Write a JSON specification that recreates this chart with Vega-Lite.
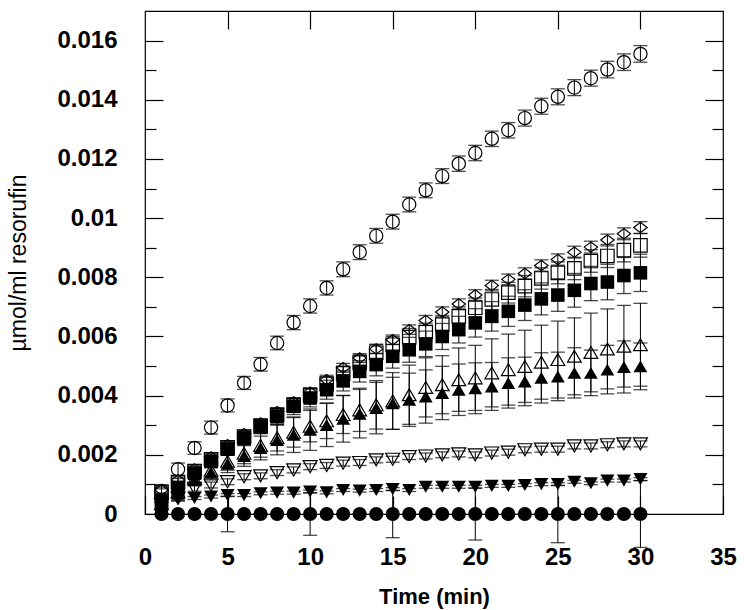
{
"$schema": "https://vega.github.io/schema/vega-lite/v6.json",
"width": 578, "height": 503,
"autosize": "none",
"padding": {"left": 145, "top": 11, "right": 25, "bottom": 96},
"background": "white",
"config": {"view": {"stroke": "black", "strokeWidth": 1.2}, "font": "Liberation Sans"},
"datasets": {"d": [
{"s":"oc","t":1,"v":0.00078,"e":0.0002},{"s":"oc","t":2,"v":0.00151,"e":0.00021},{"s":"oc","t":3,"v":0.00223,"e":0.00021},{"s":"oc","t":4,"v":0.00292,"e":0.00022},{"s":"oc","t":5,"v":0.00367,"e":0.00022},{"s":"oc","t":6,"v":0.00443,"e":0.00022},{"s":"oc","t":7,"v":0.00506,"e":0.00023},{"s":"oc","t":8,"v":0.00578,"e":0.00023},{"s":"oc","t":9,"v":0.00647,"e":0.00024},{"s":"oc","t":10,"v":0.00703,"e":0.00024},
{"s":"oc","t":11,"v":0.00764,"e":0.00024},{"s":"oc","t":12,"v":0.00827,"e":0.00025},{"s":"oc","t":13,"v":0.00885,"e":0.00025},{"s":"oc","t":14,"v":0.0094,"e":0.00025},{"s":"oc","t":15,"v":0.00988,"e":0.00025},{"s":"oc","t":16,"v":0.01046,"e":0.00025},{"s":"oc","t":17,"v":0.01094,"e":0.00025},{"s":"oc","t":18,"v":0.01142,"e":0.00025},{"s":"oc","t":19,"v":0.01184,"e":0.00026},{"s":"oc","t":20,"v":0.0122,"e":0.00026},
{"s":"oc","t":21,"v":0.01268,"e":0.00026},{"s":"oc","t":22,"v":0.01297,"e":0.00026},{"s":"oc","t":23,"v":0.01338,"e":0.00027},{"s":"oc","t":24,"v":0.01378,"e":0.00027},{"s":"oc","t":25,"v":0.0141,"e":0.00027},{"s":"oc","t":26,"v":0.01441,"e":0.00027},{"s":"oc","t":27,"v":0.01473,"e":0.00027},{"s":"oc","t":28,"v":0.01502,"e":0.00028},{"s":"oc","t":29,"v":0.01527,"e":0.00028},{"s":"oc","t":30,"v":0.01555,"e":0.00028},

{"s":"od","t":1,"v":0.00081,"e":0.0001},{"s":"od","t":2,"v":0.00115,"e":0.0001},{"s":"od","t":3,"v":0.00152,"e":0.00011},{"s":"od","t":4,"v":0.00193,"e":0.00011},{"s":"od","t":5,"v":0.00234,"e":0.00012},{"s":"od","t":6,"v":0.00271,"e":0.00012},{"s":"od","t":7,"v":0.00308,"e":0.00013},{"s":"od","t":8,"v":0.00346,"e":0.00013},{"s":"od","t":9,"v":0.00379,"e":0.00014},{"s":"od","t":10,"v":0.00412,"e":0.00014},
{"s":"od","t":11,"v":0.00454,"e":0.00015},{"s":"od","t":12,"v":0.00494,"e":0.00015},{"s":"od","t":13,"v":0.00527,"e":0.00015},{"s":"od","t":14,"v":0.00558,"e":0.00016},{"s":"od","t":15,"v":0.00589,"e":0.00016},{"s":"od","t":16,"v":0.00623,"e":0.00016},{"s":"od","t":17,"v":0.00654,"e":0.00017},{"s":"od","t":18,"v":0.00683,"e":0.00017},{"s":"od","t":19,"v":0.0071,"e":0.00017},{"s":"od","t":20,"v":0.0074,"e":0.00018},
{"s":"od","t":21,"v":0.00772,"e":0.00018},{"s":"od","t":22,"v":0.00793,"e":0.00018},{"s":"od","t":23,"v":0.00813,"e":0.00019},{"s":"od","t":24,"v":0.0084,"e":0.00019},{"s":"od","t":25,"v":0.0086,"e":0.00019},{"s":"od","t":26,"v":0.00885,"e":0.0002},{"s":"od","t":27,"v":0.00902,"e":0.0002},{"s":"od","t":28,"v":0.00926,"e":0.0002},{"s":"od","t":29,"v":0.00947,"e":0.0002},{"s":"od","t":30,"v":0.00968,"e":0.0002},

{"s":"os","t":1,"v":0.00075,"e":0.0001},{"s":"os","t":2,"v":0.00108,"e":0.00012},{"s":"os","t":3,"v":0.00145,"e":0.00013},{"s":"os","t":4,"v":0.00185,"e":0.00015},{"s":"os","t":5,"v":0.00225,"e":0.00016},{"s":"os","t":6,"v":0.00262,"e":0.00018},{"s":"os","t":7,"v":0.00298,"e":0.00019},{"s":"os","t":8,"v":0.00335,"e":0.0002},{"s":"os","t":9,"v":0.00368,"e":0.00022},{"s":"os","t":10,"v":0.00402,"e":0.00023},
{"s":"os","t":11,"v":0.0044,"e":0.00024},{"s":"os","t":12,"v":0.00475,"e":0.00025},{"s":"os","t":13,"v":0.00512,"e":0.00026},{"s":"os","t":14,"v":0.00545,"e":0.00027},{"s":"os","t":15,"v":0.00572,"e":0.00028},{"s":"os","t":16,"v":0.00598,"e":0.00029},{"s":"os","t":17,"v":0.00615,"e":0.0003},{"s":"os","t":18,"v":0.0064,"e":0.00031},{"s":"os","t":19,"v":0.00668,"e":0.00032},{"s":"os","t":20,"v":0.00697,"e":0.00033},
{"s":"os","t":21,"v":0.00725,"e":0.00034},{"s":"os","t":22,"v":0.00748,"e":0.00035},{"s":"os","t":23,"v":0.0077,"e":0.00036},{"s":"os","t":24,"v":0.00796,"e":0.00036},{"s":"os","t":25,"v":0.00815,"e":0.00037},{"s":"os","t":26,"v":0.0083,"e":0.00038},{"s":"os","t":27,"v":0.00855,"e":0.00038},{"s":"os","t":28,"v":0.00872,"e":0.00039},{"s":"os","t":29,"v":0.00892,"e":0.0004},{"s":"os","t":30,"v":0.00908,"e":0.0004},

{"s":"fs","t":1,"v":0.00047,"e":0.0001},{"s":"fs","t":2,"v":0.0009,"e":0.00013},{"s":"fs","t":3,"v":0.00138,"e":0.00015},{"s":"fs","t":4,"v":0.00177,"e":0.00018},{"s":"fs","t":5,"v":0.00219,"e":0.0002},{"s":"fs","t":6,"v":0.00256,"e":0.00022},{"s":"fs","t":7,"v":0.00296,"e":0.00024},{"s":"fs","t":8,"v":0.0033,"e":0.00026},{"s":"fs","t":9,"v":0.00364,"e":0.00028},{"s":"fs","t":10,"v":0.00392,"e":0.0003},
{"s":"fs","t":11,"v":0.0042,"e":0.00032},{"s":"fs","t":12,"v":0.0045,"e":0.00034},{"s":"fs","t":13,"v":0.00482,"e":0.00036},{"s":"fs","t":14,"v":0.00505,"e":0.00038},{"s":"fs","t":15,"v":0.00533,"e":0.0004},{"s":"fs","t":16,"v":0.00555,"e":0.00042},{"s":"fs","t":17,"v":0.00575,"e":0.00043},{"s":"fs","t":18,"v":0.006,"e":0.00044},{"s":"fs","t":19,"v":0.00623,"e":0.00045},{"s":"fs","t":20,"v":0.00646,"e":0.00048},
{"s":"fs","t":21,"v":0.00668,"e":0.0005},{"s":"fs","t":22,"v":0.00685,"e":0.00051},{"s":"fs","t":23,"v":0.00706,"e":0.00052},{"s":"fs","t":24,"v":0.00727,"e":0.00054},{"s":"fs","t":25,"v":0.0074,"e":0.00055},{"s":"fs","t":26,"v":0.00756,"e":0.00057},{"s":"fs","t":27,"v":0.00779,"e":0.00058},{"s":"fs","t":28,"v":0.00784,"e":0.0006},{"s":"fs","t":29,"v":0.00806,"e":0.00061},{"s":"fs","t":30,"v":0.00815,"e":0.00063},

{"s":"otu","t":1,"v":0.00035,"e":0.0001},{"s":"otu","t":2,"v":0.00075,"e":0.00015},{"s":"otu","t":3,"v":0.0012,"e":0.0002},{"s":"otu","t":4,"v":0.00148,"e":0.00025},{"s":"otu","t":5,"v":0.00178,"e":0.0003},{"s":"otu","t":6,"v":0.00205,"e":0.00035},{"s":"otu","t":7,"v":0.00232,"e":0.0004},{"s":"otu","t":8,"v":0.00258,"e":0.00045},{"s":"otu","t":9,"v":0.00276,"e":0.0005},{"s":"otu","t":10,"v":0.00297,"e":0.00053},
{"s":"otu","t":11,"v":0.00315,"e":0.0006},{"s":"otu","t":12,"v":0.00336,"e":0.00064},{"s":"otu","t":13,"v":0.00352,"e":0.00073},{"s":"otu","t":14,"v":0.00369,"e":0.00082},{"s":"otu","t":15,"v":0.00382,"e":0.00096},{"s":"otu","t":16,"v":0.00403,"e":0.001},{"s":"otu","t":17,"v":0.00428,"e":0.001},{"s":"otu","t":18,"v":0.00437,"e":0.00098},{"s":"otu","t":19,"v":0.00454,"e":0.00107},{"s":"otu","t":20,"v":0.0046,"e":0.0011},
{"s":"otu","t":21,"v":0.00477,"e":0.00115},{"s":"otu","t":22,"v":0.00488,"e":0.0012},{"s":"otu","t":23,"v":0.00499,"e":0.00122},{"s":"otu","t":24,"v":0.00513,"e":0.00125},{"s":"otu","t":25,"v":0.00522,"e":0.0013},{"s":"otu","t":26,"v":0.00533,"e":0.0013},{"s":"otu","t":27,"v":0.00546,"e":0.00133},{"s":"otu","t":28,"v":0.00558,"e":0.00135},{"s":"otu","t":29,"v":0.00567,"e":0.00138},{"s":"otu","t":30,"v":0.00572,"e":0.0014},

{"s":"ftu","t":1,"v":0.0003,"e":0.0001},{"s":"ftu","t":2,"v":0.00068,"e":0.00015},{"s":"ftu","t":3,"v":0.00115,"e":0.0002},{"s":"ftu","t":4,"v":0.0014,"e":0.00025},{"s":"ftu","t":5,"v":0.0017,"e":0.0003},{"s":"ftu","t":6,"v":0.00196,"e":0.00035},{"s":"ftu","t":7,"v":0.00223,"e":0.0004},{"s":"ftu","t":8,"v":0.0025,"e":0.0005},{"s":"ftu","t":9,"v":0.00268,"e":0.0006},{"s":"ftu","t":10,"v":0.00285,"e":0.0007},
{"s":"ftu","t":11,"v":0.00301,"e":0.00073},{"s":"ftu","t":12,"v":0.00322,"e":0.00079},{"s":"ftu","t":13,"v":0.00339,"e":0.00082},{"s":"ftu","t":14,"v":0.00358,"e":0.00087},{"s":"ftu","t":15,"v":0.00374,"e":0.00088},{"s":"ftu","t":16,"v":0.00386,"e":0.0009},{"s":"ftu","t":17,"v":0.00397,"e":0.0009},{"s":"ftu","t":18,"v":0.00409,"e":0.0009},{"s":"ftu","t":19,"v":0.0042,"e":0.00087},{"s":"ftu","t":20,"v":0.00425,"e":0.00086},
{"s":"ftu","t":21,"v":0.00431,"e":0.00081},{"s":"ftu","t":22,"v":0.00443,"e":0.00085},{"s":"ftu","t":23,"v":0.00448,"e":0.00082},{"s":"ftu","t":24,"v":0.0046,"e":0.00085},{"s":"ftu","t":25,"v":0.00465,"e":0.00082},{"s":"ftu","t":26,"v":0.00477,"e":0.00085},{"s":"ftu","t":27,"v":0.00477,"e":0.00077},{"s":"ftu","t":28,"v":0.00488,"e":0.00082},{"s":"ftu","t":29,"v":0.00497,"e":0.00088},{"s":"ftu","t":30,"v":0.00499,"e":0.00079},

{"s":"otd","t":1,"v":0.0003,"e":0.0001},{"s":"otd","t":2,"v":0.00054,"e":0.0001},{"s":"otd","t":3,"v":0.00087,"e":0.0001},{"s":"otd","t":4,"v":0.00098,"e":0.0001},{"s":"otd","t":5,"v":0.00109,"e":0.0001},{"s":"otd","t":6,"v":0.00126,"e":0.0001},{"s":"otd","t":7,"v":0.00129,"e":0.0001},{"s":"otd","t":8,"v":0.0014,"e":0.0001},{"s":"otd","t":9,"v":0.00149,"e":0.0001},{"s":"otd","t":10,"v":0.0016,"e":0.0001},
{"s":"otd","t":11,"v":0.00164,"e":0.0001},{"s":"otd","t":12,"v":0.00172,"e":0.0001},{"s":"otd","t":13,"v":0.00174,"e":0.0001},{"s":"otd","t":14,"v":0.00183,"e":0.0001},{"s":"otd","t":15,"v":0.00185,"e":0.0001},{"s":"otd","t":16,"v":0.00194,"e":0.0001},{"s":"otd","t":17,"v":0.00196,"e":0.0001},{"s":"otd","t":18,"v":0.002,"e":0.0001},{"s":"otd","t":19,"v":0.00203,"e":0.0001},{"s":"otd","t":20,"v":0.002,"e":0.0001},
{"s":"otd","t":21,"v":0.00206,"e":0.0001},{"s":"otd","t":22,"v":0.00209,"e":0.0001},{"s":"otd","t":23,"v":0.00217,"e":0.0001},{"s":"otd","t":24,"v":0.00219,"e":0.0001},{"s":"otd","t":25,"v":0.00219,"e":0.0001},{"s":"otd","t":26,"v":0.0023,"e":0.0001},{"s":"otd","t":27,"v":0.0023,"e":0.0001},{"s":"otd","t":28,"v":0.00234,"e":0.0001},{"s":"otd","t":29,"v":0.00237,"e":0.0001},{"s":"otd","t":30,"v":0.00237,"e":0.0001},

{"s":"ftd","t":1,"v":0.00035,"e":0.00005},{"s":"ftd","t":2,"v":0.0005,"e":0.00005},{"s":"ftd","t":3,"v":0.00054,"e":0.00005},{"s":"ftd","t":4,"v":0.00059,"e":0.00005},{"s":"ftd","t":5,"v":0.00064,"e":0.00005},{"s":"ftd","t":6,"v":0.00064,"e":0.00005},{"s":"ftd","t":7,"v":0.0007,"e":0.00005},{"s":"ftd","t":8,"v":0.00072,"e":0.00005},{"s":"ftd","t":9,"v":0.00072,"e":0.00005},{"s":"ftd","t":10,"v":0.00076,"e":0.00005},
{"s":"ftd","t":11,"v":0.00073,"e":0.00005},{"s":"ftd","t":12,"v":0.00081,"e":0.00005},{"s":"ftd","t":13,"v":0.00079,"e":0.00005},{"s":"ftd","t":14,"v":0.00081,"e":0.00005},{"s":"ftd","t":15,"v":0.00084,"e":0.00005},{"s":"ftd","t":16,"v":0.00081,"e":0.00005},{"s":"ftd","t":17,"v":0.00092,"e":0.00005},{"s":"ftd","t":18,"v":0.00092,"e":0.00005},{"s":"ftd","t":19,"v":0.00092,"e":0.00005},{"s":"ftd","t":20,"v":0.00092,"e":0.00005},
{"s":"ftd","t":21,"v":0.00095,"e":0.00005},{"s":"ftd","t":22,"v":0.00095,"e":0.00005},{"s":"ftd","t":23,"v":0.00098,"e":0.00005},{"s":"ftd","t":24,"v":0.00101,"e":0.00005},{"s":"ftd","t":25,"v":0.00101,"e":0.00005},{"s":"ftd","t":26,"v":0.00109,"e":0.00005},{"s":"ftd","t":27,"v":0.00104,"e":0.00005},{"s":"ftd","t":28,"v":0.00113,"e":0.00005},{"s":"ftd","t":29,"v":0.00113,"e":0.00005},{"s":"ftd","t":30,"v":0.00118,"e":0.00005},

{"s":"fc","t":1,"v":0,"e":0},{"s":"fc","t":2,"v":0,"e":0},{"s":"fc","t":3,"v":0,"e":0},{"s":"fc","t":4,"v":0,"e":0},{"s":"fc","t":5,"v":0,"e":0.0006},{"s":"fc","t":6,"v":0,"e":0},{"s":"fc","t":7,"v":0,"e":0},{"s":"fc","t":8,"v":0,"e":0},{"s":"fc","t":9,"v":0,"e":0},{"s":"fc","t":10,"v":0,"e":0.00072},
{"s":"fc","t":11,"v":0,"e":0},{"s":"fc","t":12,"v":0,"e":0},{"s":"fc","t":13,"v":0,"e":0},{"s":"fc","t":14,"v":0,"e":0},{"s":"fc","t":15,"v":0,"e":0.0008},{"s":"fc","t":16,"v":0,"e":0},{"s":"fc","t":17,"v":0,"e":0},{"s":"fc","t":18,"v":0,"e":0},{"s":"fc","t":19,"v":0,"e":0},{"s":"fc","t":20,"v":0,"e":0.00088},
{"s":"fc","t":21,"v":0,"e":0},{"s":"fc","t":22,"v":0,"e":0},{"s":"fc","t":23,"v":0,"e":0},{"s":"fc","t":24,"v":0,"e":0},{"s":"fc","t":25,"v":0,"e":0.00097},{"s":"fc","t":26,"v":0,"e":0},{"s":"fc","t":27,"v":0,"e":0},{"s":"fc","t":28,"v":0,"e":0},{"s":"fc","t":29,"v":0,"e":0},{"s":"fc","t":30,"v":0,"e":0.00113}
]},
"data": {"name": "d"},
"resolve": {"axis": {"x": "independent", "y": "independent"}},
"layer": [
{
"mark": {"type": "errorbar", "color": "black", "thickness": 1, "ticks": {"size": 14, "color": "black", "thickness": 1.3}},
"encoding": {
"x": {"field": "t", "type": "quantitative", "scale": {"domain": [0, 35], "nice": false, "zero": true},
"axis": {"orient": "bottom", "values": [0,5,10,15,20,25,30,35], "tickSize": -18, "tickColor": "black", "tickWidth": 1.2, "domain": false, "grid": false,
"labelFont": "Liberation Sans", "labelFontSize": 24, "labelFontWeight": "bold", "labelColor": "black", "labelPadding": 49, "labelFlush": false, "labelOverlap": false, "labelBaseline": "top",
"title": "Time (min)", "titleFont": "Liberation Sans", "titleFontSize": 22, "titleFontWeight": "bold", "titleColor": "black", "titlePadding": 17}},
"y": {"field": "v", "type": "quantitative", "scale": {"domain": [0, 0.017], "nice": false, "zero": true},
"axis": {"orient": "left", "values": [0,0.001,0.002,0.003,0.004,0.005,0.006,0.007,0.008,0.009,0.01,0.011,0.012,0.013,0.014,0.015,0.016],
"tickSize": {"condition": {"test": "round(datum.value*1000) % 2 == 0", "value": -18}, "value": -11},
"tickColor": "black", "tickWidth": 1.2, "domain": false, "grid": false,
"labelExpr": "round(datum.value*1000) % 2 == 0 ? format(datum.value, '.3~f') : ''",
"labelFont": "Liberation Sans", "labelFontSize": 24, "labelFontWeight": "bold", "labelColor": "black", "labelPadding": 46, "labelFlush": false, "labelOverlap": false,
"title": "µmol/ml resorufin", "titleFont": "Liberation Sans", "titleFontSize": 23, "titleFontWeight": "normal", "titleColor": "black", "titlePadding": 26}},
"yError": {"field": "e"}
}
},
{
"transform": [{"filter": {"field": "s", "oneOf": ["oc", "od", "os", "otu", "otd"]}}],
"mark": {"type": "point", "filled": false, "stroke": "black", "strokeWidth": 1.2, "opacity": 1},
"encoding": {
"x": {"field": "t", "type": "quantitative", "axis": null},
"y": {"field": "v", "type": "quantitative", "axis": null},
"shape": {"field": "s", "type": "nominal", "legend": null, "scale": {"domain": ["oc","od","os","fs","otu","ftu","otd","ftd","fc"], "range": ["circle","M-1,0L0,-0.78L1,0L0,0.78Z","square","square","triangle-up","triangle-up","triangle-down","triangle-down","circle"]}},
"size": {"field": "s", "type": "nominal", "legend": null, "scale": {"domain": ["oc","od","os","fs","otu","ftu","otd","ftd","fc"], "range": [175, 200, 170, 195, 215, 215, 200, 210, 145]}}
}
},
{
"transform": [{"filter": {"field": "s", "oneOf": ["fs", "ftu", "ftd", "fc"]}}],
"mark": {"type": "point", "filled": true, "color": "black", "opacity": 1},
"encoding": {
"x": {"field": "t", "type": "quantitative", "axis": null},
"y": {"field": "v", "type": "quantitative", "axis": null},
"shape": {"field": "s", "type": "nominal", "legend": null},
"size": {"field": "s", "type": "nominal", "legend": null}
}
},
{
"mark": {"type": "point", "opacity": 0},
"encoding": {
"x": {"field": "t", "type": "quantitative", "axis": {"orient": "top", "values": [5,10,15,20,25,30], "tickSize": -18, "tickColor": "black", "tickWidth": 1.2, "domain": false, "grid": false, "labels": false, "title": null}},
"y": {"field": "v", "type": "quantitative", "axis": {"orient": "right", "values": [0.001,0.002,0.003,0.004,0.005,0.006,0.007,0.008,0.009,0.01,0.011,0.012,0.013,0.014,0.015,0.016],
"tickSize": {"condition": {"test": "round(datum.value*1000) % 2 == 0", "value": -18}, "value": -11}, "tickColor": "black", "tickWidth": 1.2, "domain": false, "grid": false, "labels": false, "title": null}}
}
}
]
}
